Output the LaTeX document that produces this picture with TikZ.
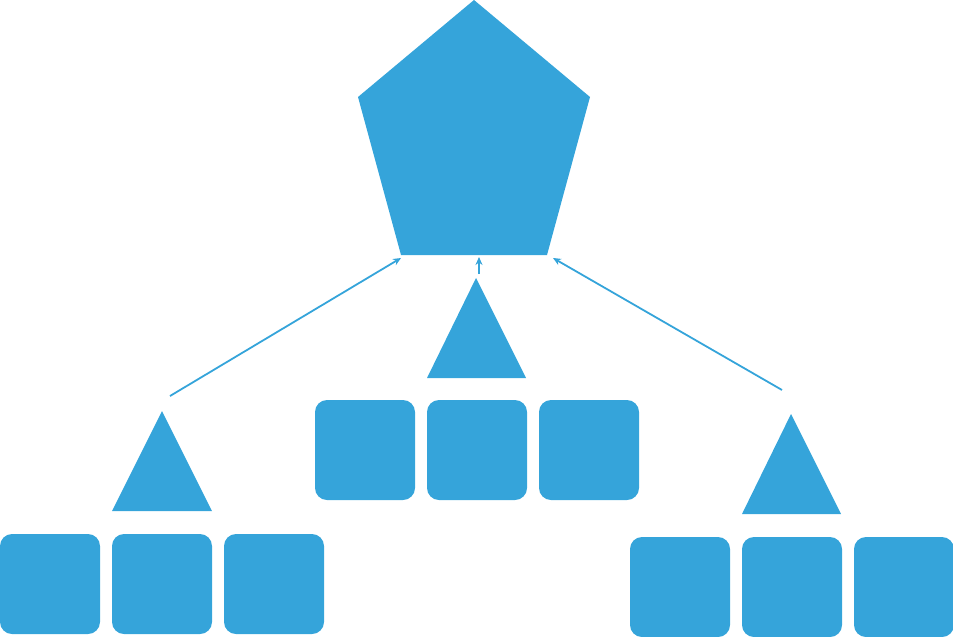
\documentclass[tikz,border=0pt]{standalone}
\usetikzlibrary{arrows.meta}
\definecolor{blu}{HTML}{35A4DA}
\begin{document}
\begin{tikzpicture}[x=1pt,y=-1pt,
  sq/.style={fill=blu,rounded corners=12pt},
  tri/.style={fill=blu},
  conn/.style={draw=blu,line width=1.8pt,-{Stealth[length=8pt,width=7pt]}}]
\useasboundingbox (0,0) rectangle (953,637);
% pentagon
\fill[blu] (474,0) -- (590,97) -- (547,255) -- (401,255) -- (358,97) -- cycle;
\coordinate (pl) at (401,258);
\coordinate (pc) at (479,257);
\coordinate (pr) at (553,258);
% triangles
\fill[tri] (476,278) -- (526,378) -- (427,378) -- cycle;
\fill[tri] (162,411) -- (212,511) -- (112,511) -- cycle;
\fill[tri] (791,414) -- (841,514) -- (742,514) -- cycle;
\coordinate (tl) at (170,396);
\coordinate (tc) at (479,274);
\coordinate (tr) at (782,390);
% squares
\foreach \x in {315,427,539} \fill[sq] (\x,400) rectangle ++(100,100);
\foreach \x in {0,112,224} \fill[sq] (\x,534) rectangle ++(100,100);
\foreach \x in {630,742,854} \fill[sq] (\x,537) rectangle ++(100,100);
% arrows
\draw[conn] (tl) -- (pl);
\draw[conn] (tc) -- (pc);
\draw[conn] (tr) -- (pr);
\end{tikzpicture}
\end{document}
